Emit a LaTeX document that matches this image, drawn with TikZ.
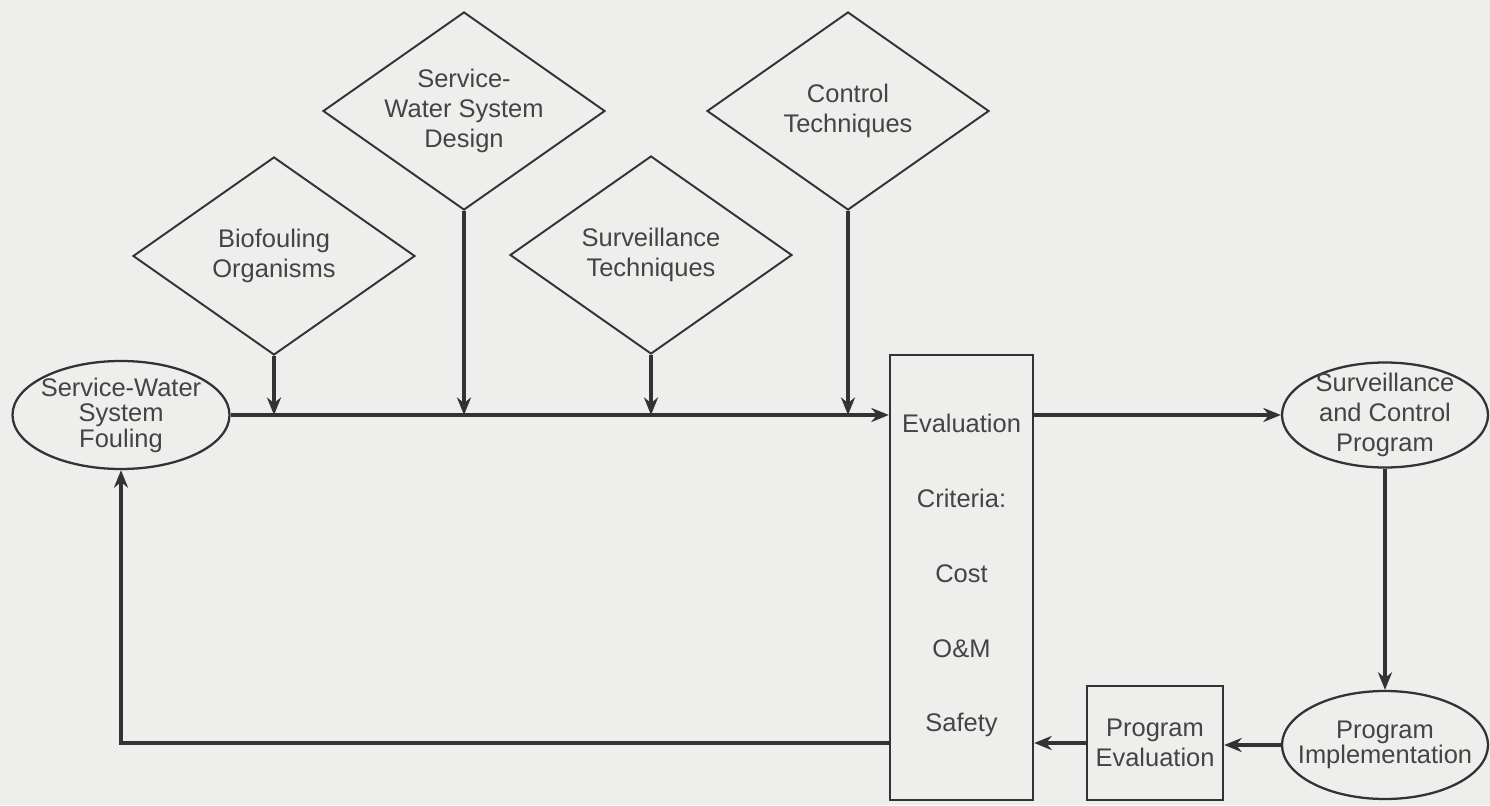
\documentclass[tikz,border=0pt]{standalone}
\usepackage{fontspec}
\setmainfont{Liberation Sans}
\usepackage{xcolor}
\definecolor{cPaper}{HTML}{EEEEEC}
\definecolor{cInk}  {HTML}{333333}
\definecolor{cText} {HTML}{444444}
\usepackage{tikz}
\usetikzlibrary{shapes.geometric, arrows.meta, positioning, calc}
\tikzset{
  dia/.style  = {diamond, draw=cInk, line width=1.1pt, aspect=1.42,
                 minimum width=5.64cm, minimum height=3.96cm, inner sep=-2pt,
                 align=center, text=cText, font=\fontsize{14.5}{17}\selectfont},
  oval/.style = {ellipse, draw=cInk, line width=1.3pt, inner sep=-3pt,
                 align=center, text=cText, font=\fontsize{14.5}{17}\selectfont},
  blk/.style  = {rectangle, draw=cInk, line width=1.3pt,
                 align=center, text=cText, font=\fontsize{14.5}{17}\selectfont},
  arr/.style  = {-{Stealth[length=10pt, width=8pt]}, line width=1.8pt, draw=cInk},
}

\begin{document}
\begin{tikzpicture}

  \fill[cPaper] (0,0) rectangle (29.8,16.1);
  \useasboundingbox (0,0) rectangle (29.8,16.1);

  % inputs
  \node[dia] (bio)    at (5.48,10.98) {Biofouling\\Organisms};
  \node[dia] (design) at (9.28,13.88) {Service-\\Water System\\Design};
  \node[dia] (survt)  at (13.02,11.0) {Surveillance\\Techniques};
  \node[dia] (ctrl)   at (16.96,13.88) {Control\\Techniques};

  \node[oval, minimum width=4.34cm, minimum height=2.16cm,
        font=\fontsize{14.5}{14.5}\selectfont] (fouling) at (2.42,7.80)
        {Service-Water\\System\\Fouling};

  \node[blk, minimum width=2.86cm, minimum height=8.9cm,
        font=\fontsize{14.5}{42.5}\selectfont] (eval) at (19.23,4.55)
        {\mbox{}\\[-34pt]Evaluation\\Criteria:\\Cost\\O\&M\\Safety};

  \node[oval, minimum width=4.12cm, minimum height=2.1cm] (scprog) at (27.7,7.80)
        {Surveillance\\and Control\\Program};
  \node[oval, inner xsep=-10pt, minimum width=4.12cm, minimum height=2.16cm,
        font=\fontsize{14.5}{14.5}\selectfont] (impl) at (27.7,1.2)
        {Program\\Implementation};
  \node[blk, minimum width=2.72cm, minimum height=2.28cm] (peval) at (23.1,1.24)
        {Program\\Evaluation};

  % main line
  \draw[arr] (fouling.east) -- (fouling.east -| eval.west);
  \foreach \n in {bio, design, survt, ctrl}
    \draw[arr] (\n.south) -- (\n.south |- fouling.east);
  \draw[arr] (fouling.east -| eval.east) -- (scprog.west);

  % loop back
  \draw[arr] (scprog.south) -- (impl.north);
  \draw[arr] (impl.west) -- (impl.west -| peval.east);
  \draw[arr] (peval.west) -- (peval.west -| eval.east);
  \coordinate (back) at (fouling.south |- peval.west);
  \draw[arr] (peval.west -| eval.west) -- (back) -- (fouling.south);

\end{tikzpicture}
\end{document}
